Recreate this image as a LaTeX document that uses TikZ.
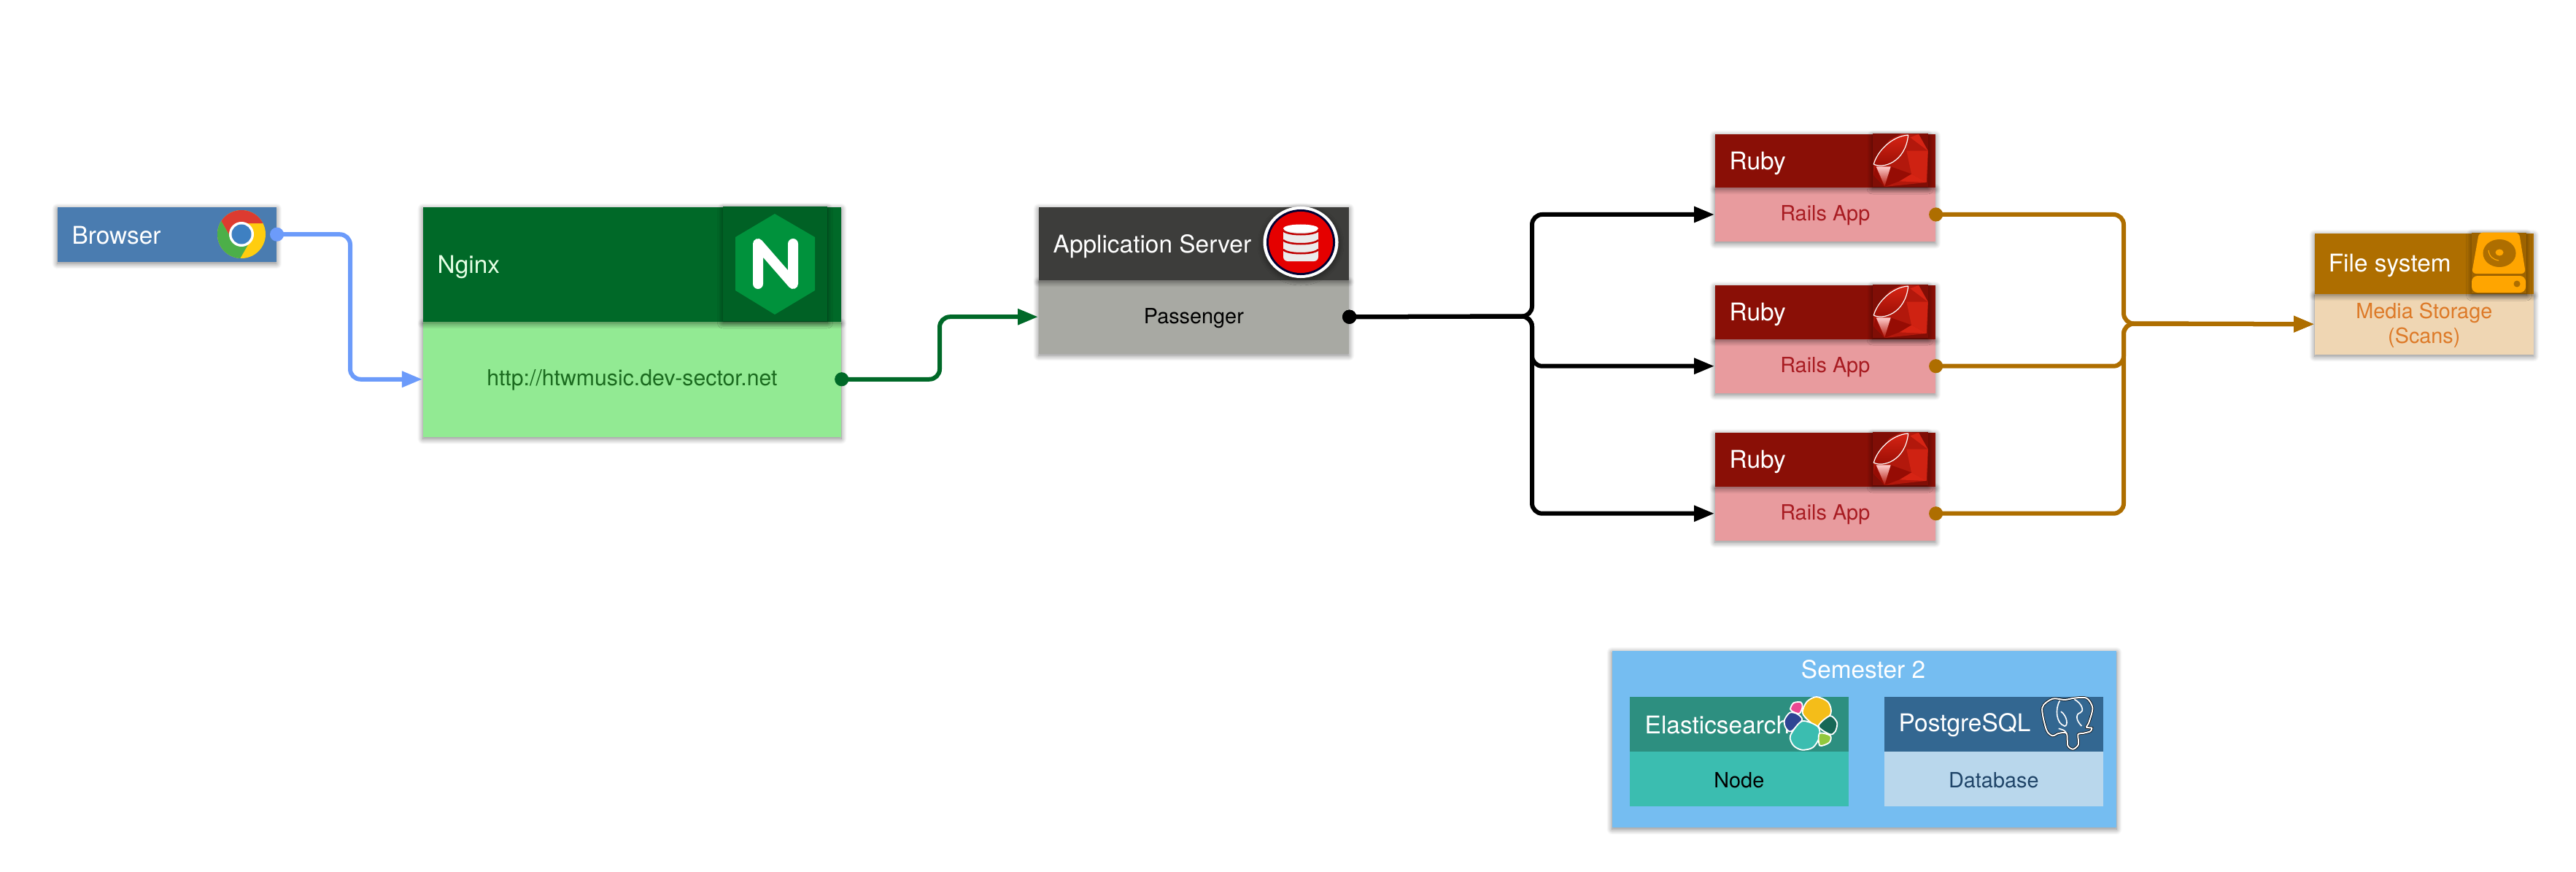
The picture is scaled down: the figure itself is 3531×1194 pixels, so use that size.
\documentclass[tikz,border=0pt]{standalone}
\usepackage{fontspec}
\setmainfont{TeX Gyre Heros}
\usetikzlibrary{arrows.meta,shadows.blur}
\definecolor{browserhead}{RGB}{74,124,176}
\definecolor{browserwire}{RGB}{108,155,250}
\definecolor{nginxhead}{RGB}{0,105,40}
\definecolor{nginxbody}{RGB}{146,234,147}
\definecolor{nginxtext}{RGB}{27,107,31}
\definecolor{nginxicon}{RGB}{0,146,60}
\definecolor{serverhead}{RGB}{61,61,59}
\definecolor{serverbody}{RGB}{168,169,163}
\definecolor{rubyhead}{RGB}{138,15,6}
\definecolor{rubybody}{RGB}{232,155,158}
\definecolor{rubytext}{RGB}{168,28,34}
\definecolor{gemdark}{RGB}{150,12,4}
\definecolor{gemmid}{RGB}{178,24,12}
\definecolor{gembright}{RGB}{214,36,20}
\definecolor{filehead}{RGB}{174,110,0}
\definecolor{filebody}{RGB}{239,214,179}
\definecolor{filetext}{RGB}{221,122,40}
\definecolor{fileicon}{RGB}{255,165,0}
\definecolor{semesterbg}{RGB}{117,189,241}
\definecolor{elastichead}{RGB}{45,143,128}
\definecolor{elasticbody}{RGB}{59,189,176}
\definecolor{elasticyellow}{RGB}{244,189,25}
\definecolor{elasticpink}{RGB}{236,72,146}
\definecolor{elasticnavy}{RGB}{46,69,147}
\definecolor{elasticgreen}{RGB}{22,104,86}
\definecolor{elasticlime}{RGB}{146,200,62}
\definecolor{pghead}{RGB}{51,103,145}
\definecolor{pgbody}{RGB}{185,215,236}
\definecolor{pgtext}{RGB}{31,68,104}
\definecolor{chromered}{RGB}{221,59,48}
\definecolor{chromeyellow}{RGB}{255,205,15}
\definecolor{chromegreen}{RGB}{76,175,73}
\definecolor{chromeblue}{RGB}{62,128,194}
\tikzset{
	softshadow/.style={blur shadow={shadow xshift=0cm, shadow yshift=-.025cm, shadow blur radius=.075cm, shadow blur steps=12, shadow opacity=50}},
	flatblock/.style={anchor=north west, inner sep=0pt},
	block/.style={flatblock, softshadow},
	headlabel/.style={anchor=west, inner sep=0pt, text=white, font=\fontsize{9.5}{11.6}\selectfont},
	bodylabel/.style={yshift=-.015cm, font=\fontsize{8.2}{9.7}\selectfont, align=center},
	wire/.style={line width=.06cm, rounded corners=.14cm, shorten <=-.095cm, {Circle[length=.19cm,width=.19cm]}-{Triangle[length=.28cm,width=.21cm]}},
	rubygem/.pic={
		\fill[rubyhead!93!black, softshadow] (50,40) rectangle (278,258);
		\fill[gemmid] (170,40) -- (240,42) -- (278,110) -- (272,240) -- (100,258) -- (55,210) -- (55,150) -- (120,65) -- cycle;
		\fill[gembright] (205,55) -- (240,42) -- (278,110) -- cycle;
		\fill[gembright!80!gemmid] (190,110) -- (278,110) -- (272,240) -- (210,205) -- cycle;
		\fill[gembright] (210,205) -- (272,240) -- (160,235) -- cycle;
		\fill[gemdark] (100,258) -- (125,175) -- (210,205) -- (160,235) -- cycle;
		\fill[gemdark] (55,210) -- (62,175) -- (100,258) -- cycle;
		\shade[top color=red!20!white, bottom color=gemmid] (65,175) -- (125,175) -- (100,255) -- cycle;
		\shade[top color=gembright, bottom color=gemdark] (197,45) .. controls (130,50) and (70,110) .. (55,165) .. controls (90,185) and (185,160) .. (197,45) -- cycle;
		\draw[white, line width=.012cm] (197,45) .. controls (130,50) and (70,110) .. (55,165) .. controls (90,185) and (185,160) .. (197,45);
	},
}
\begin{document}
\begin{tikzpicture}[x=.01cm, y=-.01cm]
	\useasboundingbox (0,0) rectangle (3531,1194);
	% browser
	\node[block, fill=browserhead, minimum width=3cm, minimum height=.75cm] (browser) at (78,283) {};
	\node[headlabel] (browserlabel) at (98,323) {Browser};
	\begin{scope}[shift={(331,321)}]
		\clip (0,0) circle[radius=.33cm];
		\fill[chromeyellow] (-40,-40) rectangle (40,40);
		\fill[chromered] (-13,7.5) -- (-33,-27) -- (-40,-40) -- (40,-40) -- (40,-15) -- (0,-15) -- cycle;
		\fill[chromegreen] (13,7.5) -- (-7,42) -- (-40,42) -- (-40,-27) -- (-33,-27) -- (-13,7.5) -- cycle;
		\fill[white] (0,0) circle[radius=.17cm];
		\fill[chromeblue] (0,0) circle[radius=.135cm];
	\end{scope}
	% nginx
	\node[block, fill=nginxbody, minimum width=5.73cm, minimum height=1.58cm] (proxy) at (579,440) {};
	\node[block, fill=nginxhead, minimum width=5.73cm, minimum height=1.57cm] (proxyhead) at (579,283) {};
	\node[headlabel, text=green!10!white] (proxylabel) at (599,366) {Nginx};
	\node[bodylabel, text=nginxtext, font=\fontsize{8.6}{10}\selectfont] (proxyurl) at (proxy.center) {http://htwmusic.dev-sector.net};
	\fill[nginxhead!92!black, softshadow] (991,283) rectangle (1134,440);
	\fill[nginxicon] (1062,293) -- (1117,325) -- (1117,398) -- (1062,431) -- (1008,398) -- (1008,325) -- cycle;
	\draw[white, line width=.14cm, line cap=round, line join=round] (1039,389) -- (1039,334) -- (1087,389) -- (1087,334);
	% application server
	\node[block, fill=serverbody, minimum width=4.25cm, minimum height=1.01cm] (passenger) at (1423,383) {};
	\node[block, fill=serverhead, minimum width=4.25cm, minimum height=1cm] (server) at (1423,283) {};
	\node[headlabel] (serverlabel) at (1443,338) {Application Server};
	\node[bodylabel] (passengerlabel) at (passenger.center) {Passenger};
	\fill[white, softshadow] (1783,332) circle[x radius=.515cm, y radius=.49cm];
	\fill[black!80!blue] (1783,332) circle[x radius=.47cm, y radius=.45cm];
	\fill[red!90!black] (1783,332) circle[x radius=.44cm, y radius=.42cm];
	\fill[black!8!white, rounded corners=.06cm] (1759,312) rectangle (1807,358);
	\fill[white] (1783,313) circle[x radius=.24cm, y radius=.055cm];
	\draw[red!75!black, line width=.025cm] (1759,316) .. controls (1765,323) and (1801,323) .. (1807,316);
	\draw[red!75!black, line width=.025cm] (1759,329) .. controls (1765,336) and (1801,336) .. (1807,329);
	\draw[red!75!black, line width=.025cm] (1759,342) .. controls (1765,349) and (1801,349) .. (1807,342);
	% ruby apps
	\node[block, fill=rubybody, minimum width=3.02cm, minimum height=.745cm] (railsone) at (2350,256) {};
	\node[block, fill=rubyhead, minimum width=3.02cm, minimum height=.73cm] (rubyone) at (2350,183) {};
	\node[headlabel] (rubyonelabel) at (2370,224) {Ruby};
	\node[bodylabel, text=rubytext] (railsonelabel) at (railsone.center) {Rails App};
	\pic[scale=.3333] at (2550,170) {rubygem};
	\node[block, fill=rubybody, minimum width=3.02cm, minimum height=.74cm] (railstwo) at (2350,464) {};
	\node[block, fill=rubyhead, minimum width=3.02cm, minimum height=.74cm] (rubytwo) at (2350,390) {};
	\node[headlabel] (rubytwolabel) at (2370,431) {Ruby};
	\node[bodylabel, text=rubytext] (railstwolabel) at (railstwo.center) {Rails App};
	\pic[scale=.3333] at (2550,377) {rubygem};
	\node[block, fill=rubybody, minimum width=3.02cm, minimum height=.74cm] (railsthree) at (2350,666) {};
	\node[block, fill=rubyhead, minimum width=3.02cm, minimum height=.74cm] (rubythree) at (2350,592) {};
	\node[headlabel] (rubythreelabel) at (2370,633) {Ruby};
	\node[bodylabel, text=rubytext] (railsthreelabel) at (railsthree.center) {Rails App};
	\pic[scale=.3333] at (2550,579) {rubygem};
	% file system
	\node[block, fill=filebody, minimum width=3cm, minimum height=.83cm] (media) at (3172,402) {};
	\node[block, fill=filehead, minimum width=3cm, minimum height=.83cm] (files) at (3172,319) {};
	\node[headlabel] (fileslabel) at (3191,364) {File system};
	\node[bodylabel, text=filetext] (medialabel) at (media.center) {Media Storage\\(Scans)};
	\fill[filehead!90!black, softshadow] (3388,318.5) rectangle (3463,402);
	\fill[fileicon, rounded corners=.06cm] (3398,318.5) -- (3453,318.5) -- (3462,375) -- (3388,375) -- cycle;
	\fill[fileicon, rounded corners=.08cm] (3388,378) rectangle (3462,401);
	\fill[filehead] (3426,347) circle[x radius=.225cm, y radius=.19cm];
	\fill[fileicon] (3426,346) circle[x radius=.055cm, y radius=.045cm];
	\draw[fileicon, line width=.012cm] (3411,343) .. controls (3412,352) and (3418,356) .. (3425,357);
	\fill[filehead] (3450,389) circle[radius=.045cm];
	% semester
	\node[block, fill=semesterbg, minimum width=6.91cm, minimum height=2.42cm] (semester) at (2209,891) {};
	\node[headlabel, anchor=center] (semesterlabel) at (2554,917) {Semester 2};
	\node[flatblock, fill=elasticbody, minimum width=3cm, minimum height=.75cm] (node) at (2233,1029) {};
	\node[flatblock, fill=elastichead, minimum width=3cm, minimum height=.75cm] (elastic) at (2233,954) {};
	\node[headlabel] (elasticlabel) at (2254,994) {Elasticsearch};
	\node[bodylabel] (nodelabel) at (node.center) {Node};
	\begin{scope}[shift={(2430,945)}, scale=.3333, draw=white, line width=.018cm]
		\filldraw[fill=elasticyellow] plot[smooth cycle] coordinates {(122,95) (140,50) (180,30) (228,52) (238,100) (185,150) (150,130)};
		\filldraw[fill=elasticpink] plot[smooth cycle] coordinates {(72,80) (85,55) (115,52) (122,70) (110,98) (85,92)};
		\filldraw[fill=elasticnavy] plot[smooth cycle] coordinates {(48,125) (70,95) (100,100) (120,125) (75,172) (52,155)};
		\filldraw[fill=elasticbody] plot[smooth cycle] coordinates {(72,190) (120,130) (185,152) (192,195) (165,238) (120,248) (85,230)};
		\filldraw[fill=elasticgreen] plot[smooth cycle] coordinates {(188,150) (235,108) (264,135) (257,172) (235,184)};
		\filldraw[fill=elasticlime] plot[smooth cycle] coordinates {(192,180) (237,190) (232,218) (193,230)};
	\end{scope}
	\node[flatblock, fill=pgbody, minimum width=3cm, minimum height=.75cm] (database) at (2582,1029) {};
	\node[flatblock, fill=pghead, minimum width=3cm, minimum height=.75cm] (postgres) at (2582,954) {};
	\node[headlabel] (postgreslabel) at (2602,994) {PostgreSQL};
	\node[bodylabel, text=pgtext] (databaselabel) at (database.center) {Database};
	\begin{scope}[shift={(2780,945)}, scale=.3333]
		\draw[black, line width=.035cm] plot[smooth cycle] coordinates {(58,75) (100,38) (150,42) (190,35) (240,35) (265,75) (250,135) (240,155) (262,158) (255,172) (225,180) (205,185) (207,225) (185,245) (163,230) (158,180) (125,180) (100,190) (75,165)};
		\draw[white, line width=.02cm] plot[smooth cycle] coordinates {(58,75) (100,38) (150,42) (190,35) (240,35) (265,75) (250,135) (240,155) (262,158) (255,172) (225,180) (205,185) (207,225) (185,245) (163,230) (158,180) (125,180) (100,190) (75,165)};
		\draw[white, line width=.016cm] (130,45) .. controls (110,80) and (115,140) .. (150,150) .. controls (165,150) and (162,110) .. (135,90);
		\draw[white, line width=.016cm] (190,40) .. controls (225,60) and (230,90) .. (215,95) .. controls (195,100) and (195,125) .. (220,150);
		\draw[white, line width=.016cm] (125,160) .. controls (140,165) and (150,165) .. (158,180);
	\end{scope}
	% connectors
	\coordinate (browserbus) at (480,420);
	\coordinate (proxybus) at (1288,476);
	\coordinate (serverbus) at (2100,433.5);
	\coordinate (mediabus) at (2911,443.5);
	\draw[wire, browserwire] (browser.east) -| (browserbus) |- (proxy.west);
	\draw[wire, nginxhead] (proxy.east) -| (proxybus) |- (passenger.west);
	\draw[wire, black] (passenger.east) -- (serverbus) |- (railsone.west);
	\draw[wire, black] (passenger.east) -- (serverbus) |- (railstwo.west);
	\draw[wire, black] (passenger.east) -- (serverbus) |- (railsthree.west);
	\draw[wire, filehead] (railsone.east) -| (mediabus) -- (media.west);
	\draw[wire, filehead] (railstwo.east) -| (mediabus) -- (media.west);
	\draw[wire, filehead] (railsthree.east) -| (mediabus) -- (media.west);
\end{tikzpicture}
\end{document}
